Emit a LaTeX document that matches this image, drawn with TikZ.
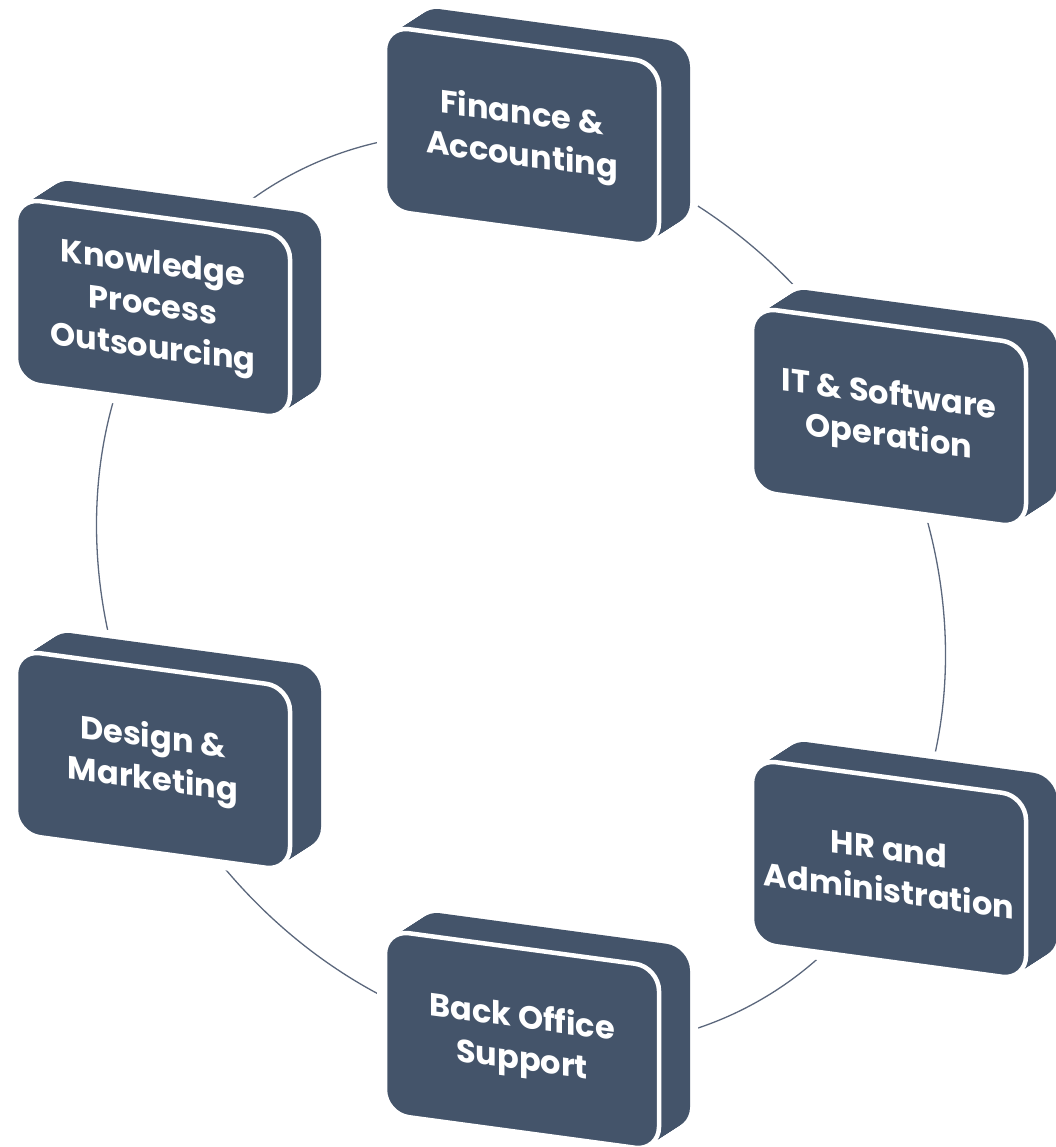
\documentclass[tikz,border=0pt]{standalone}
\usepackage{fontspec}
\setmainfont{Poppins}
\definecolor{boxc}{HTML}{44546A}
\definecolor{ringc}{HTML}{5B677C}
\tikzset{
  boxtext/.style={text=white, font=\bfseries\fontsize{32}{42}\selectfont, align=center, transform shape, inner sep=0pt},
  ringline/.style={draw=ringc, line width=1.3pt}
}
\newcommand\bxW{274}
\newcommand\bxH{184}
\newcommand\mybox[4]{%
  \begin{scope}[shift={(#2,1147-#3)}, yslant=-0.135]
    \foreach \i in {0,...,25}{
      \path[fill=white, draw=white, line width=16pt, rounded corners=24pt, shift={(31*\i/25,24.2*\i/25)}] (0,0) rectangle (\bxW,-\bxH);
    }
    \foreach \i in {0,...,25}{
      \path[fill=boxc, rounded corners=24pt, shift={(31*\i/25,24.2*\i/25)}] (0,0) rectangle (\bxW,-\bxH);
    }
    \path[fill=boxc, draw=white, line width=4.5pt, rounded corners=24pt] (0,0) rectangle (\bxW,-\bxH);
    \node[boxtext] (#1) at (\bxW/2,-\bxH/2) {#4};
  \end{scope}%
}
\begin{document}
\begin{tikzpicture}[x=1pt,y=1pt]
\useasboundingbox (0,0) rectangle (1056,1147);
\begin{scope}[shift={(521,557)}, yslant=-0.153]
  \path[ringline] (0,0) ellipse [x radius=424.5, y radius=452];
\end{scope}
\mybox{fin}{385}{26}{Finance \&\\Accounting}
\mybox{it}{752}{307}{IT \& Software\\Operation}
\mybox{hr}{752}{759}{HR and\\Administration}
\mybox{back}{385}{930}{Back Office\\Support}
\mybox{design}{16}{650}{Design \&\\Marketing}
\mybox{kpo}{16}{198}{Knowledge\\Process\\Outsourcing}
\end{tikzpicture}
\end{document}
